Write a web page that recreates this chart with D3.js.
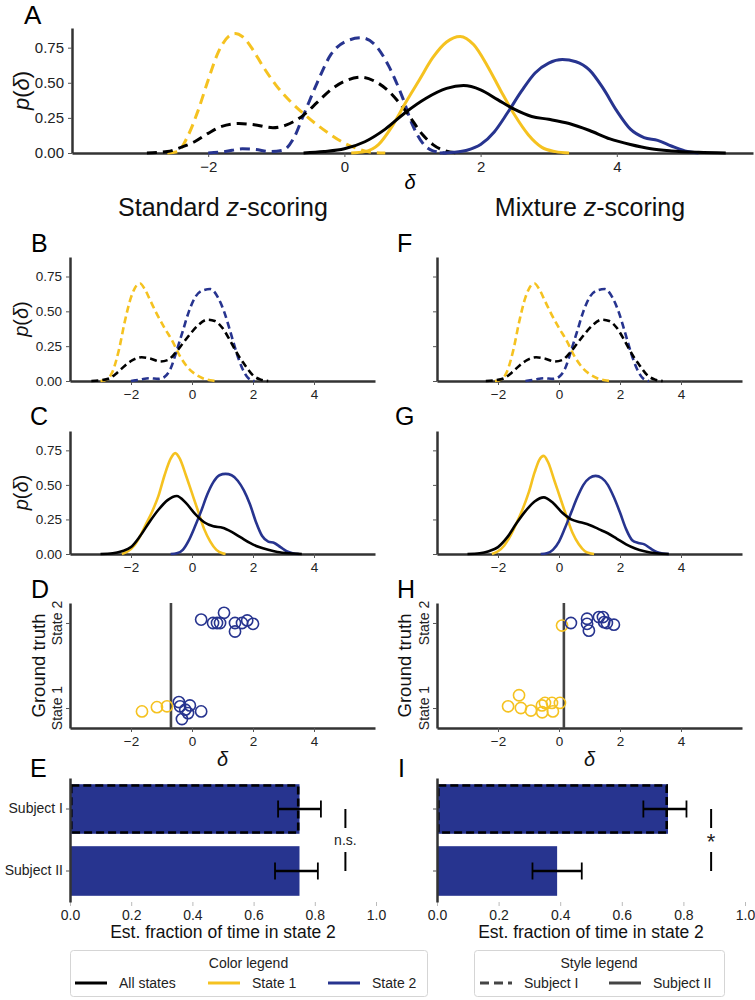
<!DOCTYPE html>
<html><head><meta charset="utf-8">
<script src="https://cdn.jsdelivr.net/npm/d3@7"></script>
<style>body{margin:0;background:#fff}svg{display:block}text{font-family:"Liberation Sans",Arial,sans-serif}</style>
</head><body>
<svg id="c" width="755" height="1000"></svg>
<script>
const YELLOW="#F5C220", BLUE="#27348F", BLACK="#000000", AXIS="#333333";
const deltaTicks=[-2,0,2,4];
const densityTicks=[0,0.25,0.5,0.75];
const fracTicks=[0,0.2,0.4,0.6,0.8,1.0];
const stateLabels=["State 1","State 2"];
const subjects=["Subject I","Subject II"];

// Panel A: Subject I (dashed) and Subject II (solid); [delta, density]
const aS1SubjI=[[-2.6,0],[-2.45,0.01],[-2.3,0.12],[-2.15,0.3],[-2.0,0.52],[-1.85,0.72],[-1.7,0.83],[-1.6,0.85],[-1.5,0.83],[-1.35,0.74],[-1.2,0.62],[-1.0,0.48],[-0.8,0.37],[-0.6,0.28],[-0.4,0.2],[-0.2,0.13],[0,0.07],[0.2,0.03],[0.4,0.005],[0.6,0]];
const aS2SubjI=[[-2.0,0],[-1.75,0.01],[-1.5,0.03],[-1.3,0.025],[-1.1,0.01],[-0.9,0.02],[-0.75,0.1],[-0.6,0.27],[-0.4,0.5],[-0.2,0.7],[0,0.79],[0.25,0.82],[0.45,0.77],[0.65,0.62],[0.85,0.4],[1.0,0.2],[1.15,0.07],[1.3,0.015],[1.5,0]];
const aAllSubjI=[[-2.9,0],[-2.6,0.01],[-2.4,0.04],[-2.2,0.08],[-2.0,0.14],[-1.8,0.19],[-1.55,0.21],[-1.3,0.2],[-1.05,0.18],[-0.85,0.2],[-0.6,0.27],[-0.4,0.36],[-0.2,0.45],[0,0.51],[0.25,0.54],[0.45,0.51],[0.65,0.44],[0.85,0.33],[1.0,0.23],[1.15,0.13],[1.3,0.06],[1.45,0.02],[1.65,0]];
const aS1SubjII=[[0.1,0],[0.3,0.01],[0.5,0.06],[0.7,0.19],[0.9,0.36],[1.1,0.52],[1.3,0.68],[1.5,0.79],[1.7,0.83],[1.9,0.77],[2.1,0.62],[2.3,0.44],[2.5,0.27],[2.7,0.13],[2.9,0.04],[3.1,0.01],[3.3,0]];
const aS2SubjII=[[1.4,0],[1.6,0.005],[1.8,0.02],[2.0,0.06],[2.2,0.15],[2.4,0.29],[2.6,0.44],[2.8,0.57],[3.0,0.64],[3.2,0.665],[3.4,0.65],[3.6,0.59],[3.8,0.46],[4.0,0.3],[4.2,0.17],[4.4,0.11],[4.6,0.09],[4.8,0.05],[5.0,0.015],[5.2,0]];
const aAllSubjII=[[-0.6,0],[-0.3,0.01],[0,0.03],[0.3,0.08],[0.6,0.17],[0.9,0.29],[1.2,0.39],[1.5,0.46],[1.75,0.48],[2.0,0.45],[2.25,0.38],[2.5,0.31],[2.75,0.26],[3.0,0.24],[3.3,0.21],[3.6,0.16],[3.9,0.1],[4.2,0.06],[4.5,0.03],[4.8,0.015],[5.2,0.005],[5.6,0]];

// Panel B: standard z-scoring, Subject I
const bS1=[[-3.0,0],[-2.8,0.01],[-2.6,0.07],[-2.4,0.22],[-2.2,0.43],[-2.0,0.6],[-1.8,0.69],[-1.7,0.70],[-1.55,0.66],[-1.35,0.57],[-1.15,0.48],[-0.9,0.38],[-0.65,0.29],[-0.4,0.18],[-0.15,0.1],[0.1,0.05],[0.35,0.02],[0.6,0.005],[0.8,0]];
const bS2=[[-2.0,0],[-1.7,0.01],[-1.4,0.02],[-1.1,0.015],[-0.9,0.03],[-0.7,0.09],[-0.5,0.22],[-0.3,0.36],[-0.1,0.5],[0.1,0.6],[0.35,0.65],[0.6,0.66],[0.85,0.6],[1.05,0.5],[1.25,0.36],[1.45,0.21],[1.65,0.09],[1.85,0.02],[2.05,0]];
const bAll=[[-3.3,0],[-3.0,0.005],[-2.7,0.02],[-2.45,0.06],[-2.2,0.11],[-1.95,0.15],[-1.65,0.17],[-1.35,0.16],[-1.05,0.14],[-0.8,0.15],[-0.55,0.2],[-0.3,0.27],[-0.05,0.34],[0.2,0.4],[0.5,0.44],[0.75,0.43],[1.0,0.38],[1.25,0.29],[1.5,0.19],[1.75,0.11],[2.0,0.04],[2.25,0.01],[2.5,0]];
// Panel F: mixture z-scoring, Subject I
const fS1=[[-2.1,0],[-1.9,0.01],[-1.7,0.07],[-1.5,0.22],[-1.3,0.43],[-1.1,0.6],[-0.9,0.69],[-0.8,0.70],[-0.65,0.66],[-0.45,0.57],[-0.25,0.48],[0,0.38],[0.25,0.29],[0.5,0.18],[0.75,0.1],[1.0,0.05],[1.25,0.02],[1.5,0.005],[1.7,0]];
const fS2=[[-1.1,0],[-0.8,0.01],[-0.5,0.02],[-0.2,0.015],[0,0.03],[0.2,0.09],[0.4,0.22],[0.6,0.36],[0.8,0.5],[1.0,0.6],[1.25,0.65],[1.5,0.66],[1.75,0.6],[1.95,0.5],[2.15,0.36],[2.35,0.21],[2.55,0.09],[2.75,0.02],[2.95,0]];
const fAll=[[-2.4,0],[-2.1,0.005],[-1.8,0.02],[-1.55,0.06],[-1.3,0.11],[-1.05,0.15],[-0.75,0.17],[-0.45,0.16],[-0.15,0.14],[0.1,0.15],[0.35,0.2],[0.6,0.27],[0.85,0.34],[1.1,0.4],[1.4,0.44],[1.65,0.43],[1.9,0.38],[2.15,0.29],[2.4,0.19],[2.65,0.11],[2.9,0.04],[3.15,0.01],[3.4,0]];
// Panel C: standard z-scoring, Subject II
const cS1=[[-2.3,0],[-2.1,0.02],[-1.9,0.06],[-1.7,0.13],[-1.5,0.22],[-1.3,0.31],[-1.1,0.42],[-0.9,0.57],[-0.7,0.69],[-0.55,0.73],[-0.4,0.69],[-0.2,0.57],[0,0.44],[0.2,0.31],[0.4,0.18],[0.6,0.09],[0.8,0.03],[1.0,0.005],[1.1,0]];
const cS2=[[-0.7,0],[-0.5,0.005],[-0.3,0.03],[-0.1,0.1],[0.1,0.2],[0.3,0.31],[0.5,0.43],[0.7,0.52],[0.9,0.57],[1.1,0.58],[1.3,0.57],[1.5,0.53],[1.7,0.46],[1.9,0.36],[2.1,0.23],[2.3,0.13],[2.5,0.09],[2.7,0.08],[2.9,0.05],[3.1,0.02],[3.3,0.005],[3.5,0]];
const cAll=[[-3.0,0],[-2.6,0.005],[-2.3,0.02],[-2.0,0.05],[-1.7,0.13],[-1.4,0.23],[-1.1,0.32],[-0.8,0.39],[-0.5,0.42],[-0.2,0.37],[0.1,0.29],[0.4,0.23],[0.7,0.2],[1.0,0.19],[1.3,0.16],[1.6,0.12],[1.9,0.08],[2.2,0.05],[2.5,0.03],[2.8,0.015],[3.2,0.005],[3.6,0]];
// Panel G: mixture z-scoring, Subject II
const gS1=[[-2.2,0],[-2.0,0.02],[-1.8,0.06],[-1.6,0.13],[-1.4,0.22],[-1.2,0.32],[-1.0,0.44],[-0.8,0.59],[-0.65,0.68],[-0.5,0.71],[-0.35,0.66],[-0.15,0.53],[0.05,0.4],[0.25,0.27],[0.45,0.15],[0.65,0.07],[0.85,0.02],[1.05,0.004],[1.15,0]];
const gS2=[[-0.6,0],[-0.4,0.005],[-0.2,0.03],[0,0.09],[0.2,0.19],[0.4,0.3],[0.6,0.41],[0.8,0.5],[1.0,0.55],[1.2,0.565],[1.4,0.55],[1.6,0.5],[1.8,0.41],[2.0,0.3],[2.2,0.18],[2.4,0.1],[2.6,0.08],[2.8,0.07],[3.0,0.04],[3.2,0.015],[3.4,0.004],[3.6,0]];
const gAll=[[-3.0,0],[-2.6,0.005],[-2.3,0.02],[-2.0,0.05],[-1.7,0.12],[-1.4,0.22],[-1.1,0.31],[-0.8,0.38],[-0.5,0.41],[-0.2,0.37],[0.1,0.3],[0.4,0.25],[0.7,0.23],[1.0,0.21],[1.3,0.18],[1.6,0.15],[1.9,0.11],[2.2,0.07],[2.5,0.04],[2.8,0.02],[3.2,0.005],[3.6,0]];

// Panels D/H: [delta, ground-truth state (0/1) + jitter, predicted state]
const dPoints=[[-1.64,-0.04,0],[-1.15,0.01,0],[-0.82,0.02,0],[-0.43,0.07,1],[-0.39,0.02,1],[-0.33,-0.13,1],[-0.13,-0.06,1],[-0.07,0.03,1],[-0.22,-0.02,1],[0.30,-0.04,1],
  [0.30,1.04,1],[0.69,1.0,1],[0.82,1.0,1],[0.92,1.0,1],[1.05,1.12,1],[1.41,1.0,1],[1.41,0.9,1],[1.64,1.0,1],[1.81,1.03,1],[2.0,0.99,1]];
const dThreshold=-0.69;
const hPoints=[[-1.67,0.02,0],[-1.31,0.15,0],[-1.25,0,0],[-0.92,-0.03,0],[-0.56,0.03,0],[-0.55,-0.05,0],[-0.46,0.06,0],[-0.23,0.06,0],[-0.2,-0.04,0],[0.03,0.06,0],
  [0.1,0.97,0],[0.39,1.0,1],[0.92,1.05,1],[0.92,0.99,1],[0.98,0.91,1],[1.31,1.07,1],[1.44,1.07,1],[1.48,1.01,1],[1.57,1.0,1],[1.8,0.98,1]];
const hThreshold=0.16;

// Panels E/I: estimated fraction of time in state 2
const eFrac=[0.75,0.75], eLo=[0.68,0.67], eHi=[0.82,0.81];
const iFrac=[0.75,0.39], iLo=[0.67,0.31], iHi=[0.81,0.47];

const svg=d3.select("#c");
const stateColor=[YELLOW,BLUE];

function styleAxis(g,fs){
  g.select(".domain").attr("stroke",AXIS).attr("stroke-width",2.5);
  g.selectAll(".tick line").attr("stroke","#555").attr("stroke-width",1);
  g.selectAll(".tick text").attr("fill","#222").attr("font-size",fs).attr("font-family","'Liberation Sans',Arial,sans-serif");
}

function densityPanel(o){
  const x=d3.scaleLinear().domain([-4,6]).range(o.xr);
  const y=d3.scaleLinear().domain([0,0.89]).range(o.yr);
  const g=svg.append("g");
  const ax=g.append("g").attr("transform",`translate(0,${o.yr[0]})`)
    .call(d3.axisBottom(x).tickValues(deltaTicks).tickSize(4).tickSizeOuter(0).tickPadding(4).tickFormat(d=>d<0?"\u2212"+Math.abs(d):d));
  styleAxis(ax,o.fs);
  const ay=g.append("g").attr("transform",`translate(${o.xr[0]},0)`)
    .call(d3.axisLeft(y).tickValues(densityTicks).tickSize(4).tickSizeOuter(0).tickPadding(4).tickFormat(o.ylabels?d3.format(".2f"):""));
  styleAxis(ay,o.fs);
  const line=d3.line().x(d=>x(d[0])).y(d=>y(d[1])).curve(d3.curveMonotoneX);
  o.curves.forEach(c=>{
    g.append("path").attr("d",line(c.data)).attr("fill","none").attr("stroke",c.color)
      .attr("stroke-width",o.lw).attr("stroke-dasharray",c.dash?o.dash:null).attr("stroke-linejoin","round");
  });
  if(o.ylabels){
    const cy=(o.yr[0]+o.yr[1])/2;
    const t=g.append("text").attr("transform",`translate(${o.ylx},${cy}) rotate(-90)`).attr("text-anchor","middle")
      .attr("font-size",o.lfs).attr("fill","#111");
    t.append("tspan").attr("font-style","italic").text("p");
    t.append("tspan").text("(");
    t.append("tspan").attr("font-style","italic").text("δ");
    t.append("tspan").text(")");
  }
  return {x,y};
}

function letter(t,x,y,fs){
  svg.append("text").attr("x",x).attr("y",y).attr("font-size",fs||25).attr("fill","#000").text(t);
}

// Panel A
const aCurves=[
  {data:aS1SubjI,color:YELLOW,dash:true},{data:aS2SubjI,color:BLUE,dash:true},{data:aAllSubjI,color:BLACK,dash:true},
  {data:aS1SubjII,color:YELLOW},{data:aS2SubjII,color:BLUE},{data:aAllSubjII,color:BLACK}];
densityPanel({xr:[72,753],yr:[153,28],ylabels:true,curves:aCurves,lw:3,dash:"10,6",fs:15,lfs:22,ylx:29});
letter("A",24,24,26);
svg.append("text").attr("x",410).attr("y",189).attr("text-anchor","middle").attr("font-size",20).attr("font-style","italic").text("δ");

// Column titles
function title(x,pre){
  const t=svg.append("text").attr("x",x).attr("y",216).attr("text-anchor","middle").attr("font-size",25).attr("fill","#111");
  t.append("tspan").text(pre+" ");
  t.append("tspan").attr("font-style","italic").text("z");
  t.append("tspan").text("-scoring");
}
title(223,"Standard");
title(590,"Mixture");

densityPanel({xr:[70,375],yr:[381,257],ylabels:true,curves:[{data:bS1,color:YELLOW,dash:true},{data:bS2,color:BLUE,dash:true},{data:bAll,color:BLACK,dash:true}],lw:2.6,dash:"7,4",fs:13.5,lfs:20,ylx:28});
letter("B",31,252);
densityPanel({xr:[437,742],yr:[381,257],ylabels:false,curves:[{data:fS1,color:YELLOW,dash:true},{data:fS2,color:BLUE,dash:true},{data:fAll,color:BLACK,dash:true}],lw:2.6,dash:"7,4",fs:13.5});
letter("F",397,252);
densityPanel({xr:[70,375],yr:[554,431],ylabels:true,curves:[{data:cS1,color:YELLOW},{data:cS2,color:BLUE},{data:cAll,color:BLACK}],lw:2.6,fs:13.5,lfs:20,ylx:28});
letter("C",30,425);
densityPanel({xr:[437,742],yr:[554,431],ylabels:false,curves:[{data:gS1,color:YELLOW},{data:gS2,color:BLUE},{data:gAll,color:BLACK}],lw:2.6,fs:13.5});
letter("G",395,425);

// Panels D/H
function stripPanel(xr,pts,thr,labX,glx){
  const x=d3.scaleLinear().domain([-4,6]).range(xr);
  const y=d3.scaleLinear().domain([-0.235,1.235]).range([728,603]);
  const g=svg.append("g");
  const ax=g.append("g").attr("transform","translate(0,728)")
    .call(d3.axisBottom(x).tickValues(deltaTicks).tickSize(4).tickSizeOuter(0).tickPadding(4).tickFormat(d=>d<0?"\u2212"+Math.abs(d):d));
  styleAxis(ax,13.5);
  const ay=g.append("g").attr("transform",`translate(${xr[0]},0)`)
    .call(d3.axisLeft(y).tickValues([0,1]).tickSize(4).tickSizeOuter(0).tickFormat(""));
  styleAxis(ay,13.5);
  stateLabels.forEach((s,i)=>{
    g.append("text").attr("transform",`translate(${labX},${y(i)}) rotate(-90)`).attr("text-anchor","middle")
      .attr("font-size",14).attr("fill","#222").text(s);
  });
  g.append("text").attr("transform",`translate(${glx},${(603+728)/2}) rotate(-90)`).attr("text-anchor","middle")
    .attr("font-size",18.5).attr("fill","#111").text("Ground truth");
  g.append("line").attr("x1",x(thr)).attr("x2",x(thr)).attr("y1",603).attr("y2",728).attr("stroke","#444").attr("stroke-width",2.6);
  g.selectAll("circle").data(pts).join("circle").attr("cx",d=>x(d[0])).attr("cy",d=>y(d[1])).attr("r",5.6)
    .attr("fill","none").attr("stroke",d=>stateColor[d[2]]).attr("stroke-width",1.6);
  g.append("text").attr("x",(xr[0]+xr[1])/2).attr("y",766).attr("text-anchor","middle").attr("font-size",20).attr("font-style","italic").attr("fill","#111").text("δ");
}
stripPanel([70,375],dPoints,dThreshold,62,45);
letter("D",31,598);
stripPanel([437,742],hPoints,hThreshold,429,411);
letter("H",397,598);

// Panels E/I
function barPanel(xr,vals,lo,hi,showLabels,sigX,sigText){
  const x=d3.scaleLinear().domain([0,1]).range(xr);
  const y=d3.scaleBand().domain(subjects).range([778,902]).paddingInner(0.2).paddingOuter(0.1);
  const g=svg.append("g");
  const ax=g.append("g").attr("transform","translate(0,902)")
    .call(d3.axisBottom(x).tickValues(fracTicks).tickSize(4).tickSizeOuter(0).tickPadding(4).tickFormat(d3.format(".1f")));
  styleAxis(ax,14);
  ax.select(".domain").remove();
  ax.selectAll(".tick line").attr("stroke","#bbb");
  const ay=g.append("g").attr("transform",`translate(${xr[0]},0)`)
    .call(d3.axisLeft(y).tickSize(4).tickSizeOuter(0).tickPadding(3).tickFormat(showLabels?(d=>d):""));
  styleAxis(ay,14);
  subjects.forEach((s,i)=>{
    g.append("rect").attr("x",x(0)).attr("y",y(s)).attr("width",x(vals[i])-x(0)).attr("height",y.bandwidth()).attr("fill",BLUE);
    if(i===0){
      g.append("rect").attr("x",x(0)+1.3).attr("y",y(s)+1.3).attr("width",x(vals[i])-x(0)-2.6).attr("height",y.bandwidth()-2.6)
        .attr("fill","none").attr("stroke","#000").attr("stroke-width",2.6).attr("stroke-dasharray","8,4");
    }
    const cy=y(s)+y.bandwidth()/2;
    g.append("line").attr("x1",x(lo[i])).attr("x2",x(hi[i])).attr("y1",cy).attr("y2",cy).attr("stroke","#000").attr("stroke-width",2.6);
    [lo[i],hi[i]].forEach(v=>g.append("line").attr("x1",x(v)).attr("x2",x(v)).attr("y1",cy-8.5).attr("y2",cy+8.5).attr("stroke","#000").attr("stroke-width",1.8));
  });
  ay.raise();
  const sx=x(sigX);
  const c1=y(subjects[0])+y.bandwidth()/2, c2=y(subjects[1])+y.bandwidth()/2;
  g.append("line").attr("x1",sx).attr("x2",sx).attr("y1",c1).attr("y2",c1+19).attr("stroke","#000").attr("stroke-width",2);
  g.append("line").attr("x1",sx).attr("x2",sx).attr("y1",c2-19).attr("y2",c2).attr("stroke","#000").attr("stroke-width",2);
  g.append("text").attr("x",sx).attr("y",(c1+c2)/2+(sigText==="*"?9:5)).attr("text-anchor","middle")
    .attr("font-size",sigText==="*"?22:14).attr("fill","#222").text(sigText);
  g.append("text").attr("x",(xr[0]+xr[1])/2).attr("y",938).attr("text-anchor","middle").attr("font-size",17.5).attr("fill","#111").text("Est. fraction of time in state 2");
}
barPanel([70,376],eFrac,eLo,eHi,true,0.9,"n.s.");
letter("E",30,777);
barPanel([437,745],iFrac,iLo,iHi,false,0.89,"*");
letter("I",398,777);

// Legends
function legend(x0,x1,titleText,items){
  const g=svg.append("g");
  g.append("rect").attr("x",x0+0.5).attr("y",950.5).attr("width",x1-x0).attr("height",46).attr("rx",3)
    .attr("fill","#fff").attr("stroke","#d5d5d5").attr("stroke-width",1);
  g.append("text").attr("x",(x0+x1)/2).attr("y",968).attr("text-anchor","middle").attr("font-size",14).attr("fill","#222").text(titleText);
  items.forEach(it=>{
    g.append("line").attr("x1",it.lx).attr("x2",it.lx+32).attr("y1",983).attr("y2",983).attr("stroke",it.color)
      .attr("stroke-width",3).attr("stroke-dasharray",it.dash?"9,5":null);
    g.append("text").attr("x",it.lx+44).attr("y",988).attr("font-size",14).attr("fill","#222").text(it.label);
  });
}
legend(70,427,"Color legend",[{lx:75,color:BLACK,label:"All states"},{lx:208,color:YELLOW,label:"State 1"},{lx:328,color:BLUE,label:"State 2"}]);
legend(474,724,"Style legend",[{lx:480,color:"#444",dash:true,label:subjects[0]},{lx:609,color:"#444",label:subjects[1]}]);
</script>
</body></html>
